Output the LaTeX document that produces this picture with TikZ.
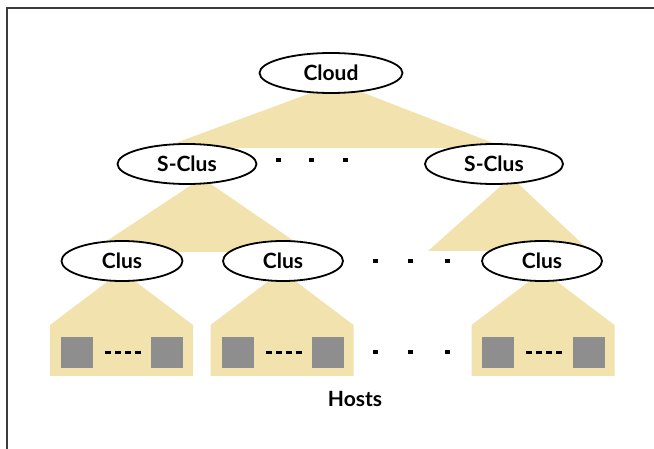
\documentclass[tikz,border=0pt]{standalone}
\usepackage{fontspec}
\setmainfont{Lato}
\definecolor{fanbg}{HTML}{F2E2AE}
\definecolor{hostgray}{HTML}{8E8E8E}
\definecolor{framegray}{HTML}{3C3C3C}
\usetikzlibrary{shapes.geometric, backgrounds}
\tikzset{
  clus/.style={draw=black, ellipse, fill=white, line width=1.8pt,
               minimum height=40pt, inner sep=0pt,
               font=\fontsize{21}{25}\selectfont\bfseries},
  fan/.style={fill=fanbg},
  hostbox/.style={fill=hostgray, minimum width=32pt, minimum height=31pt,
                  inner sep=0pt},
  hostdash/.style={line width=3pt, dash pattern=on 6pt off 4pt,
                   shorten <=12pt, shorten >=8pt},
  gapdot/.style={fill=black, minimum width=5pt, minimum height=4pt,
                 inner sep=0pt},
  lbl/.style={font=\fontsize{21}{25}\selectfont\bfseries, inner sep=0pt},
}

\begin{document}
\begin{tikzpicture}[x=1pt, y=-1pt]
  \useasboundingbox (0,0) rectangle (654,449);

  %% Frame
  \draw[framegray, line width=1.5pt] (7,449) -- (7,8) -- (654,8);

  %% Tree levels
  \node[clus, minimum width=143pt] (cloud) at (331,73)  {Cloud};
  \node[clus, minimum width=139pt] (sc1)   at (187,164) {S-Clus};
  \node[clus, minimum width=138pt] (sc2)   at (494,164) {S-Clus};
  \node[clus, minimum width=121pt] (c1)    at (122,261) {Clus};
  \node[clus, minimum width=120pt] (c2)    at (283,261) {Clus};
  \node[clus, minimum width=120pt] (c3)    at (542,261) {Clus};

  %% Hosts
  \node[hostbox] (h1a) at (77,353)    {};
  \node[hostbox] (h1b) at (166.5,353) {};
  \node[hostbox] (h2a) at (237.5,353) {};
  \node[hostbox] (h2b) at (327.5,353) {};
  \node[hostbox] (h3a) at (498,353)   {};
  \node[hostbox] (h3b) at (588.5,353) {};

  \draw[hostdash] (h1a.east) -- (h1b.west);
  \draw[hostdash] (h2a.east) -- (h2b.west);
  \draw[hostdash] (h3a.east) -- (h3b.west);

  \node[lbl] (hosts) at (355,399) {Hosts};

  %% Gaps
  \foreach \x [count=\i] in {278,311,345}
    \node[gapdot] (ds\i) at (\x,160) {};
  \foreach \x [count=\i] in {375,410,447} {
    \node[gapdot] (dc\i) at (\x,261) {};
    \node[gapdot] (dh\i) at (\x,352) {};
  }

  %% Fans (behind the nodes)
  \begin{scope}[on background layer]
    \fill[fan] (338,83) -- (162,148) -- (506,148) -- cycle;
    \fill[fan] (202,178) -- (90,252) -- (310,252) -- cycle;
    \fill[fan] (511,177) -- (428,251) -- (590,251) -- cycle;
    \foreach \cx in {121.5,282,543}
      \fill[fan] (\cx,271) -- ++(71.5,54) -- ++(0,51) -- ++(-143,0)
                 -- ++(0,-51) -- cycle;
  \end{scope}

\end{tikzpicture}
\end{document}
